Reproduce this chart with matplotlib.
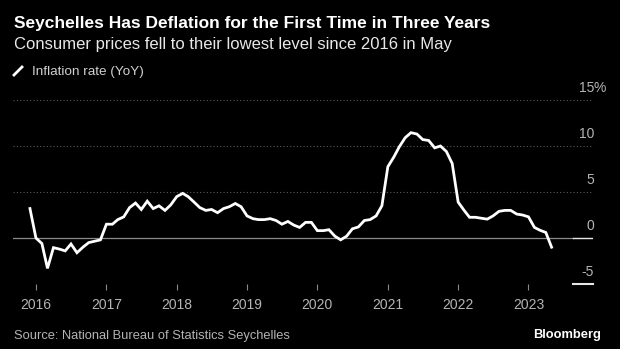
import matplotlib
matplotlib.use("Agg")
import matplotlib.pyplot as plt
import matplotlib.transforms as mtransforms
import pandas as pd

# monthly YoY inflation, Dec 2015 .. May 2023
start_month = "2015-12-01"
inflation = [
    3.2,
    0.0, -0.6, -3.3, -1.05, -1.2, -1.4, -0.65, -1.6, -1.0, -0.5, -0.35, -0.2,
    1.5, 1.5, 2.0, 2.3, 3.3, 3.8, 3.1, 4.0, 3.2, 3.5, 3.0, 3.6,
    4.5, 4.85, 4.5, 3.9, 3.3, 3.0, 3.1, 2.75, 3.2, 3.4, 3.75, 3.4,
    2.4, 2.1, 2.0, 2.0, 2.1, 1.9, 1.5, 1.8, 1.4, 1.15, 1.7, 1.7,
    0.8, 0.8, 0.9, 0.2, -0.2, 0.2, 1.0, 1.2, 1.9, 2.0, 2.4, 3.5,
    7.75, 8.8, 9.9, 10.9, 11.45, 11.3, 10.7, 10.6, 9.8, 10.0, 9.4, 8.1,
    3.9, 3.0, 2.25, 2.25, 2.15, 2.05, 2.4, 2.9, 3.0, 3.0, 2.6, 2.5,
    2.3, 1.15, 0.85, 0.6, -1.0,
]
year_ticks = [2016, 2017, 2018, 2019, 2020, 2021, 2022, 2023]
y_ticks = [15, 10, 5, 0, -5]
y_labels = ["15", "10", "5", "0", "-5"]

dates = pd.date_range(start_month, periods=len(inflation), freq="MS")

plt.rcParams["font.family"] = ["Liberation Sans", "DejaVu Sans"]

grid_col = "#5a5a5a"
label_col = "#b4b4b4"

fig = plt.figure(figsize=(6.2, 3.49), dpi=100, facecolor="black")
ax = fig.add_axes([13 / 620, 65 / 349, 580 / 620, 184 / 349], facecolor="black")

ax.set_xlim(pd.Timestamp("2015-09-04"), pd.Timestamp("2023-12-02"))
ax.set_ylim(-5, 15)

for v in [15, 10, 5]:
    ax.axhline(v, color=grid_col, lw=0.8, ls=(0, (1.0, 2.0)), zorder=1)
ax.axhline(0, xmax=0.966, color="#8a8a8a", lw=0.9, zorder=1)
ax.axhline(0, xmin=0.966, xmax=1.0, color="#e6e6e6", lw=1.0, zorder=1)
ax.axhline(-5, xmin=0.966, xmax=1.0, color="#e6e6e6", lw=1.5, zorder=1, clip_on=False)

ax.plot(dates, inflation, color="white", lw=2.0, solid_joinstyle="miter", zorder=3)

for s in ax.spines.values():
    s.set_visible(False)

ax.set_yticks([])
ax.set_xticks([pd.Timestamp(f"{y}-01-01") for y in year_ticks])
ax.set_xticklabels([str(y) for y in year_ticks])
ax.tick_params(axis="x", length=4, width=0.8, color="#8a8a8a", pad=6,
               labelsize=10, labelcolor=label_col)

trans = mtransforms.blended_transform_factory(ax.transAxes, ax.transData)
for v, lab in zip(y_ticks, y_labels):
    ax.annotate(lab, xy=(1.0017, v), xycoords=trans, xytext=(0, 9), textcoords="offset points",
                ha="right", va="center", fontsize=10, color=label_col)
    if v == 15:
        ax.annotate("%", xy=(1.0017, v), xycoords=trans, xytext=(0, 9), textcoords="offset points",
                    ha="left", va="center", fontsize=10, color=label_col)

fig.text(14 / 620, 1 - 28 / 349, "Seychelles Has Deflation for the First Time in Three Years",
         fontsize=12.5, fontweight="bold", color="white", va="baseline")
fig.text(14 / 620, 1 - 48.5 / 349, "Consumer prices fell to their lowest level since 2016 in May",
         fontsize=12, color="#e8e8e8", va="baseline")
fig.lines.append(plt.Line2D([14 / 620, 22 / 620], [1 - 75 / 349, 1 - 67 / 349],
                            transform=fig.transFigure, color="white", lw=2.0))
fig.text(32 / 620, 1 - 75 / 349, "Inflation rate (YoY)", fontsize=9.7,
         color="#d0d0d0", va="baseline")
fig.text(14 / 620, 1 - 339 / 349, "Source: National Bureau of Statistics Seychelles",
         fontsize=9.3, color=label_col, va="baseline")
fig.text(601 / 620, 1 - 338 / 349, "Bloomberg", fontsize=9.3, fontweight="bold",
         color="white", ha="right", va="baseline")

fig.savefig("out.png", dpi=100, facecolor="black")
